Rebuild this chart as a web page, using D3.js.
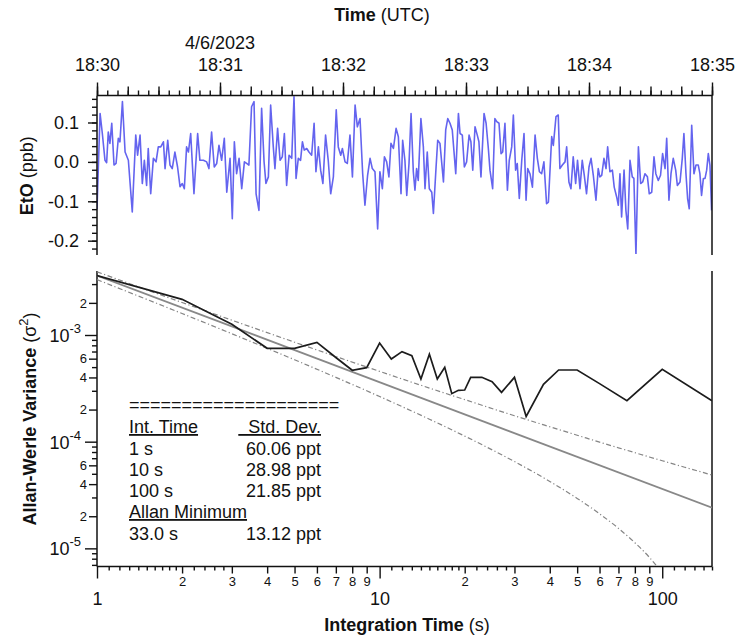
<!DOCTYPE html>
<html>
<head>
<meta charset="utf-8">
<script src="https://cdn.jsdelivr.net/npm/d3@7"></script>
<style>
  body { margin: 0; background: #fff; }
  svg text { font-family: "Liberation Sans", Arial, Helvetica, sans-serif; fill: #111; }
  .pre { white-space: pre; }
</style>
</head>
<body>
<svg id="chart" width="737" height="639"></svg>
<script>
// ---- EtO time series: [seconds after 18:30:00 UTC, mixing ratio in ppb] ----
const etoSamples = [
  [0,-0.12],[1.5,0.123],[2.6,0.072],[3.9,0.004],[4.7,-0.002],[5.5,0.076],[6.3,0.047],[7.2,0.098],[8.3,-0.008],[9.3,-0.004],
  [10.4,0.06],[11.2,0.051],[12.4,0.153],[13.7,0.025],[15.3,0.004],[17.2,-0.127],[18.9,0.068],[19.8,0.017],[21.0,0.068],[22.1,-0.055],
  [23.1,0.004],[24.2,-0.06],[25.0,0.034],[26.2,-0.081],[27.5,0.009],[28.8,0],[29.9,0.038],[31.1,0.038],[32.4,0.051],[33.2,-0.017],
  [34.5,0.055],[35.6,-0.008],[36.7,-0.017],[38.0,0.025],[39.3,-0.013],[40.5,-0.063],[41.6,-0.055],[42.6,-0.068],[43.7,0.038],[44.6,0.025],
  [45.7,0.072],[47.3,-0.081],[49.1,0.072],[50.2,0.004],[51.9,0.004],[53.5,0],[54.6,-0.017],[55.9,0.076],[57.2,-0.013],[58.4,-0.004],
  [59.5,0.042],[60.8,0.004],[62.1,0.06],[63.3,-0.077],[64.9,0.009],[66.0,-0.144],[67.0,0.051],[68.1,-0.03],[69.3,0.009],[70.6,-0.068],
  [71.9,0],[73.0,-0.004],[74.1,-0.008],[75.4,0.14],[76.6,0.153],[77.6,-0.081],[79.0,-0.123],[80.3,0.136],[81.5,0],[82.4,-0.055],
  [83.6,-0.038],[84.7,0.144],[86.0,0.038],[86.8,-0.017],[88.1,0.085],[89.3,0.004],[90.4,0.013],[91.4,0.072],[92.5,-0.06],[93.7,0.017],
  [95.0,0.009],[96.1,0.165],[97.1,-0.042],[98.2,0.009],[99.3,0.004],[100.2,0.051],[101.1,0.03],[102.3,0.034],[103.4,0.025],[104.7,0.017],
  [105.9,0.098],[106.8,-0.025],[108.0,0.038],[109.1,-0.021],[110.2,-0.055],[111.5,0.068],[112.8,0.004],[114.0,-0.081],[115.3,-0.038],[116.7,0.132],
  [117.7,0.038],[118.9,0.017],[119.7,0.034],[121.0,0],[122.1,-0.004],[123.4,0.068],[124.6,-0.038],[125.9,0.144],[127.0,0.089],[128.3,0.11],
  [129.6,-0.03],[130.7,-0.11],[132.0,-0.034],[133.2,0.009],[134.3,-0.017],[135.6,-0.025],[136.9,-0.17],[138.0,-0.025],[139.2,-0.068],[140.2,0.013],
  [141.3,0],[142.4,-0.038],[143.4,0.047],[144.6,0.034],[145.9,0.085],[147.0,0.064],[148.3,-0.081],[149.1,0.055],[150.2,0.004],[151.1,-0.085],
  [152.2,-0.004],[153.2,0.123],[154.3,-0.025],[155.1,-0.072],[155.9,-0.017],[156.7,-0.047],[158.0,0.11],[159.2,0.038],[160.0,-0.068],[161.1,0.025],
  [162.1,-0.068],[163.3,-0.077],[164.1,-0.131],[165.4,-0.013],[166.2,0.055],[167.3,0.047],[169.0,-0.051],[170.1,0.081],[171.1,0.11],[172.2,0.098],
  [173.3,0.081],[175.0,-0.03],[176.3,0.123],[177.1,0.072],[178.2,0.068],[179.2,-0.013],[180.3,0],[181.5,0.068],[182.4,0.051],[183.3,-0.021],
  [184.4,0.089],[185.5,0.068],[186.3,0.051],[187.3,-0.038],[188.8,0.123],[189.8,0.098],[190.9,0.034],[191.7,-0.021],[193.0,-0.068],[194.1,0.11],
  [195.0,0.102],[196.1,0.098],[197.1,0.021],[197.9,0.025],[199.0,0.098],[200.2,-0.072],[201.1,0.004],[202.3,0.038],[203.1,0.119],[204.2,-0.021],
  [205.0,-0.004],[206.0,-0.093],[207.2,0.004],[208.3,0.072],[209.3,-0.097],[210.1,-0.017],[211.2,-0.03],[212.4,-0.064],[213.7,0.068],[214.8,0.009],
  [215.8,-0.025],[216.9,-0.03],[218.0,0],[219.3,-0.106],[220.2,-0.102],[221.8,0.064],[222.6,0.042],[223.9,0.115],[225.0,0.119],[225.8,-0.017],
  [227.0,-0.008],[228.3,0],[229.1,0.038],[230.2,-0.051],[231.2,-0.068],[232.3,0.013],[233.5,-0.055],[234.4,0.004],[235.6,-0.068],[236.7,0.004],
  [237.7,-0.034],[238.8,-0.081],[240.0,-0.013],[241.0,0.009],[242.1,-0.034],[243.4,-0.097],[244.5,-0.017],[245.3,-0.038],[246.2,-0.034],[247.3,0.009],
  [248.3,-0.017],[249.1,0.038],[250.2,-0.025],[251.4,-0.021],[252.3,-0.064],[253.5,-0.089],[254.3,-0.11],[255.1,-0.03],[255.9,-0.14],[257.1,-0.021],
  [258.0,-0.123],[258.9,-0.17],[260.0,0.004],[261.1,-0.038],[261.9,-0.042],[262.9,-0.237],[264.1,0.038],[265.2,-0.055],[266.2,-0.051],[267.3,-0.03],
  [268.5,-0.038],[269.4,-0.081],[270.6,-0.077],[271.7,0.013],[272.6,-0.03],[273.8,-0.047],[274.9,-0.034],[275.9,0.021],[277.1,-0.017],[277.9,0.06],
  [279.0,-0.097],[280.0,-0.03],[281.1,0.009],[282.3,-0.021],[283.1,-0.06],[284.4,-0.051],[285.5,0.009],[286.3,0.072],[287.3,-0.03],[288.1,-0.093],
  [288.9,-0.119],[290.1,0.093],[291.2,-0.03],[292.2,-0.008],[293.3,-0.008],[294.1,-0.03],[294.9,-0.085],[295.8,-0.042],[296.6,-0.042],[297.4,-0.021],
  [298.2,0.021],[299.0,-0.008],[299.8,-0.123]
];

// ---- Allan-Werle variance (ppb^2) versus integration time (s) ----
const tauSeconds = [1,2,3,4,5,6,7,8,9,10,11,12,13,14,15,16,17,18,19,20,21,23,25,27,30,33,38,43,50,60,75,100,150];
const allanVariance = [
  3.6072e-3, 2.16e-3, 1.26e-3, 7.5e-4, 7.5e-4, 8.54e-4, 6.15e-4, 4.67e-4, 4.94e-4, 8.3984e-4,
  5.96e-4, 6.98e-4, 6.4e-4, 3.87e-4, 6.6e-4, 3.87e-4, 4.98e-4, 2.82e-4, 3.03e-4, 3.05e-4,
  4.01e-4, 4.01e-4, 3.65e-4, 2.9e-4, 4.01e-4, 1.7213e-4, 3.45e-4, 4.7e-4, 4.7e-4, 3.5e-4,
  2.42e-4, 4.7742e-4, 2.42e-4
];

// white-noise reference line (slope -1)
const whiteTau = [1, 150];
const whiteVariance = [3.6072e-3, 2.405e-5];

// confidence envelope around the white-noise line
const boundTau = [1,2,3,5,7,10,15,20,30,40,50,60,70,80,90,100,110,120,135,150];
const upperBound = [3.909e-3,2.017e-3,1.377e-3,8.56e-4,6.29e-4,4.56e-4,3.18e-4,2.48e-4,1.75e-4,1.38e-4,
                    1.15e-4,9.9e-5,8.76e-5,7.89e-5,7.19e-5,6.63e-5,6.16e-5,5.76e-5,5.27e-5,4.87e-5];
const lowerTau = [1,2,3,5,7,10,15,20,30,40,50,60,70,80,90,100];
const lowerBound = [3.305e-3,1.59e-3,1.028e-3,5.86e-4,4.01e-4,2.65e-4,1.625e-4,1.128e-4,6.51e-5,4.24e-5,
                    2.94e-5,2.11e-5,1.54e-5,1.13e-5,8.25e-6,5.87e-6];

// summary table
const tableHeader = ["Int. Time", "  Std. Dev."];
const tableRows = [["1 s", "60.06 ppt"], ["10 s", "28.98 ppt"], ["100 s", "21.85 ppt"]];
const minimumHeader = "Allan Minimum";
const minimumRow = ["33.0 s", "13.12 ppt"];

// axis labels
const etoTickValues = [0.1, 0.0, -0.1, -0.2];
const etoTickLabels = ["0.1", "0.0", "-0.1", "-0.2"];
const dateLabel = "4/6/2023";

// ---------------- layout ----------------
const svg = d3.select("#chart");
const L = 97, R = 712;
const T1 = 95.5, B1 = 254;     // time-series panel
const T2 = 271, B2 = 566.5;    // Allan panel
const FONT = 18;

const t0 = new Date(Date.UTC(2023, 3, 6, 18, 30, 0));
const t1 = new Date(Date.UTC(2023, 3, 6, 18, 35, 0));
const xTime = d3.scaleUtc().domain([t0, t1]).range([L, R]);
const yEto = d3.scaleLinear().domain([-0.2338, 0.1685]).range([B1, T1]);
const xTau = d3.scaleLog().domain([1, 150]).range([L, R]);
const yVar = d3.scaleLog().domain([6.76e-6, 3.98e-3]).range([B2, T2]);

const defs = svg.append("defs");
defs.append("clipPath").attr("id", "clipTop").append("rect")
  .attr("x", L).attr("y", T1).attr("width", R - L).attr("height", B1 - T1);
defs.append("clipPath").attr("id", "clipBottom").append("rect")
  .attr("x", L).attr("y", T2).attr("width", R - L).attr("height", B2 - T2);

function styleAxis(g, size) {
  g.attr("font-family", null).attr("font-size", size);
  g.select(".domain").remove();
  g.selectAll(".tick line").attr("stroke", "#111").attr("stroke-width", 1.4);
  g.selectAll(".tick text").attr("fill", "#111");
  return g;
}

// ---------------- top panel: EtO time series ----------------
// time axis (ticks pointing up): 5 s minor, 15 s medium, 1 min major
const gTime = svg.append("g").attr("transform", `translate(0,${T1})`);
gTime.append("g").call(d3.axisTop(xTime).ticks(d3.utcSecond.every(5)).tickSize(5).tickSizeOuter(0).tickFormat(""))
  .call(styleAxis, FONT);
gTime.append("g").call(d3.axisTop(xTime).ticks(d3.utcSecond.every(15)).tickSize(9).tickSizeOuter(0).tickFormat(""))
  .call(styleAxis, FONT);
gTime.append("g").call(d3.axisTop(xTime).ticks(d3.utcMinute.every(1)).tickSize(13).tickSizeOuter(0)
    .tickPadding(12).tickFormat(d3.utcFormat("%H:%M")))
  .call(styleAxis, FONT);

svg.append("text").attr("x", xTime(new Date(Date.UTC(2023, 3, 6, 18, 31, 0)))).attr("y", 49)
  .attr("text-anchor", "middle").attr("font-size", FONT).text(dateLabel);

const timeTitle = svg.append("text").attr("class", "pre").attr("x", 382).attr("y", 21)
  .attr("text-anchor", "middle").attr("font-size", FONT);
timeTitle.append("tspan").attr("font-weight", "bold").text("Time");
timeTitle.append("tspan").text(" (UTC)");

// EtO y axis
const gEto = svg.append("g").attr("transform", `translate(${L},0)`);
gEto.append("g").call(d3.axisLeft(yEto).tickValues(d3.range(-22, 17, 2).map(k => k / 100))
    .tickSize(5).tickSizeOuter(0).tickFormat(""))
  .call(styleAxis, FONT);
gEto.append("g").call(d3.axisLeft(yEto).tickValues(etoTickValues).tickSize(9).tickSizeOuter(0)
    .tickPadding(9).tickFormat((d, i) => etoTickLabels[i]))
  .call(styleAxis, FONT);

const etoTitle = svg.append("text").attr("class", "pre")
  .attr("transform", `translate(33,${(T1 + B1) / 2 + 1}) rotate(-90)`)
  .attr("text-anchor", "middle").attr("font-size", FONT);
etoTitle.append("tspan").attr("font-weight", "bold").text("EtO");
etoTitle.append("tspan").text(" (ppb)");

// series line
const etoLine = d3.line()
  .x(d => xTime(new Date(t0.getTime() + d[0] * 1000)))
  .y(d => yEto(d[1]));
svg.append("path").datum(etoSamples)
  .attr("clip-path", "url(#clipTop)")
  .attr("d", etoLine)
  .attr("fill", "none").attr("stroke", "#6464ef").attr("stroke-width", 1.6)
  .attr("stroke-linejoin", "round");

// frame of the top panel
const frame = svg.append("g").attr("stroke", "#111").attr("stroke-width", 1.5).attr("fill", "none");
frame.append("line").attr("x1", L).attr("x2", R).attr("y1", T1).attr("y2", T1);
frame.append("line").attr("x1", L).attr("x2", L).attr("y1", T1).attr("y2", B1 + 1);
frame.append("line").attr("x1", R).attr("x2", R).attr("y1", T1).attr("y2", B1 + 1);

// ---------------- bottom panel: Allan-Werle variance ----------------
const decadeMinors = (exps, ms) => {
  const out = [];
  exps.forEach(e => ms.forEach(m => out.push(+(m * Math.pow(10, e)).toPrecision(6))));
  return out;
};

// y axis (log)
const yDom = yVar.domain();
const inY = v => v >= yDom[0] && v <= yDom[1];
const yMajors = [1e-3, 1e-4, 1e-5];
const yLabeled = decadeMinors([-6, -5, -4, -3], [2, 4, 6]).filter(inY);
const yPlain = decadeMinors([-6, -5, -4, -3], [3, 5, 7, 8, 9]).filter(inY);

const gVar = svg.append("g").attr("transform", `translate(${L},0)`);
gVar.append("g").call(d3.axisLeft(yVar).tickValues(yPlain).tickSize(5).tickSizeOuter(0).tickFormat(""))
  .call(styleAxis, 12);
gVar.append("g").call(d3.axisLeft(yVar).tickValues(yLabeled).tickSize(8).tickSizeOuter(0).tickPadding(2)
    .tickFormat(d => String(Math.round(d / Math.pow(10, Math.floor(Math.log10(d) + 1e-9))))))
  .call(styleAxis, 13);
gVar.append("g").call(d3.axisLeft(yVar).tickValues(yMajors).tickSize(12).tickSizeOuter(0).tickFormat(""))
  .call(styleAxis, FONT);

yMajors.forEach(v => {
  const e = Math.round(Math.log10(v));
  const t = svg.append("text").attr("x", 81).attr("y", yVar(v) + 7)
    .attr("text-anchor", "end").attr("font-size", FONT);
  t.append("tspan").text("10");
  t.append("tspan").attr("dy", -9).attr("font-size", 13).text(String(e));
});

const varTitle = svg.append("text").attr("class", "pre")
  .attr("transform", `translate(36,419) rotate(-90)`)
  .attr("text-anchor", "middle").attr("font-size", FONT);
varTitle.append("tspan").attr("font-weight", "bold").text("Allan-Werle Variance");
varTitle.append("tspan").text(" (\u03C3");
varTitle.append("tspan").attr("dy", -8).attr("font-size", 13).text("2");
varTitle.append("tspan").attr("dy", 8).text(")");

// x axis (log)
const xDom = xTau.domain();
const inX = v => v >= xDom[0] && v <= xDom[1] + 1e-9;
const xMajors = [1, 10, 100];
const xLabeled = decadeMinors([0, 1], [2, 3, 4, 5, 6, 7, 8, 9]);
const xPlain = decadeMinors([0, 1, 2], [1.1, 1.2, 1.3, 1.4, 1.5, 1.6, 1.7, 1.8, 1.9, 2.2, 2.4, 2.6, 2.8]).filter(inX);

const gTau = svg.append("g").attr("transform", `translate(0,${B2})`);
gTau.append("g").call(d3.axisBottom(xTau).tickValues(xPlain).tickSize(4).tickSizeOuter(0).tickFormat(""))
  .call(styleAxis, 12);
gTau.append("g").call(d3.axisBottom(xTau).tickValues(xLabeled).tickSize(7).tickSizeOuter(0).tickPadding(3)
    .tickFormat(d => String(Math.round(d / Math.pow(10, Math.floor(Math.log10(d) + 1e-9))))))
  .call(styleAxis, 13);
gTau.append("g").call(d3.axisBottom(xTau).tickValues(xMajors).tickSize(12).tickSizeOuter(0).tickPadding(14)
    .tickFormat(d3.format("d")))
  .call(styleAxis, FONT);

const tauTitle = svg.append("text").attr("class", "pre").attr("x", 407).attr("y", 631)
  .attr("text-anchor", "middle").attr("font-size", FONT);
tauTitle.append("tspan").attr("font-weight", "bold").text("Integration Time");
tauTitle.append("tspan").text(" (s)");

// curves
const plot = svg.append("g").attr("clip-path", "url(#clipBottom)");
const logLine = d3.line().x(d => xTau(d[0])).y(d => yVar(d[1]));
const smoothLine = d3.line().x(d => xTau(d[0])).y(d => yVar(d[1])).curve(d3.curveMonotoneX);

plot.append("path").datum(boundTau.map((t, i) => [t, upperBound[i]]))
  .attr("d", smoothLine).attr("fill", "none").attr("stroke", "#858585").attr("stroke-width", 1.2)
  .attr("stroke-dasharray", "5,2.5,1.2,2.5");
plot.append("path").datum(lowerTau.map((t, i) => [t, lowerBound[i]]))
  .attr("d", smoothLine).attr("fill", "none").attr("stroke", "#858585").attr("stroke-width", 1.2)
  .attr("stroke-dasharray", "5,2.5,1.2,2.5");
plot.append("path").datum(whiteTau.map((t, i) => [t, whiteVariance[i]]))
  .attr("d", logLine).attr("fill", "none").attr("stroke", "#888").attr("stroke-width", 1.8);
plot.append("path").datum(tauSeconds.map((t, i) => [t, allanVariance[i]]))
  .attr("d", logLine).attr("fill", "none").attr("stroke", "#1c1c1c").attr("stroke-width", 1.7)
  .attr("stroke-linejoin", "miter");

// frame of the bottom panel
frame.append("line").attr("x1", L).attr("x2", L).attr("y1", T2).attr("y2", B2);
frame.append("line").attr("x1", L).attr("x2", R).attr("y1", B2).attr("y2", B2);
frame.append("line").attr("x1", R).attr("x2", R).attr("y1", T2).attr("y2", B2);

// summary table
const table = svg.append("g").attr("font-size", FONT);
const colL = 129, colR = 321;
const rowY = [411, 433, 454.5, 475.5, 497, 518, 539.5];
table.append("text").attr("x", colL).attr("y", rowY[0]).text("=".repeat(20));
table.append("text").attr("x", colL).attr("y", rowY[1])
  .attr("text-decoration", "underline").text(tableHeader[0]);
table.append("text").attr("class", "pre").attr("x", colR).attr("y", rowY[1]).attr("text-anchor", "end")
  .attr("text-decoration", "underline").text(tableHeader[1]);
tableRows.forEach((r, i) => {
  table.append("text").attr("x", colL).attr("y", rowY[2 + i]).text(r[0]);
  table.append("text").attr("x", colR).attr("y", rowY[2 + i]).attr("text-anchor", "end").text(r[1]);
});
table.append("text").attr("x", colL).attr("y", rowY[5])
  .attr("text-decoration", "underline").text(minimumHeader);
table.append("text").attr("x", colL).attr("y", rowY[6]).text(minimumRow[0]);
table.append("text").attr("x", colR).attr("y", rowY[6]).attr("text-anchor", "end").text(minimumRow[1]);
</script>
</body>
</html>
